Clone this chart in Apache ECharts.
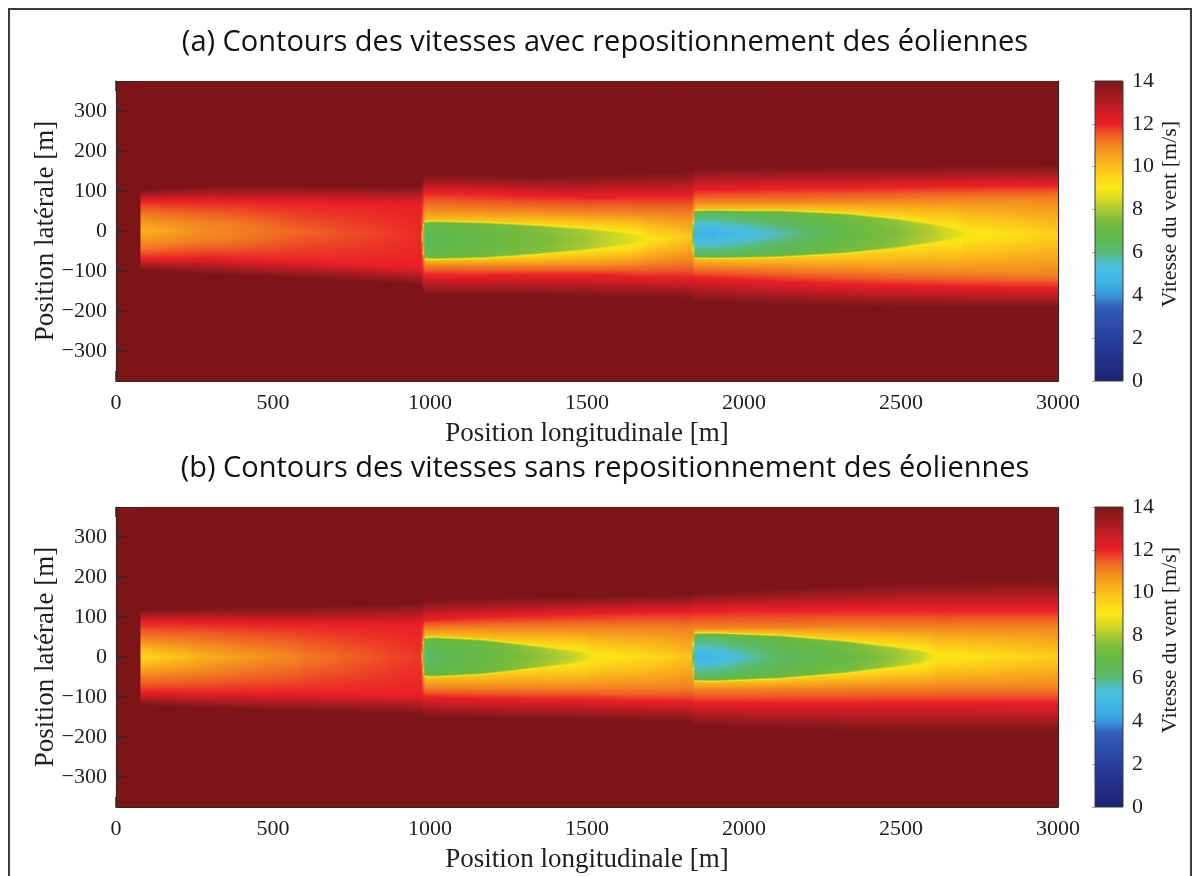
<!DOCTYPE html>
<html>
<head>
<meta charset="utf-8">
<script src="https://cdn.jsdelivr.net/npm/echarts@6/dist/echarts.min.js"></script>
<style>
  html, body { margin: 0; padding: 0; background: #ffffff; }
  #chart { width: 1200px; height: 876px; }
</style>
</head>
<body>
<div id="chart"></div>
<script>
// ---------------------------------------------------------------------------
// Axis ticks
// ---------------------------------------------------------------------------
const xTicks = [0, 500, 1000, 1500, 2000, 2500, 3000];
const yTicks = [-300, -200, -100, 0, 100, 200, 300];
const speedTicks = [0, 2, 4, 6, 8, 10, 12, 14];
const xRange = [0, 3000];
const yRange = [-375, 375];
const speedRange = [0, 14];

// ---------------------------------------------------------------------------
// Wind-speed field, described by cross-sections taken at stations along x.
// For each station:
//   centre     : wake centre line [m]
//   speedC     : speed on the centre line [m/s]
//   core       : half-width of the near-wake core [m] (0 = no core)
//   speedEdge  : speed just inside the core edge [m/s]
//   speedRim   : speed just outside the core edge [m/s]
//   orange*    : lateral positions where the speed reaches 11 m/s
//   red*       : lateral positions where the speed reaches 12 m/s
//   outer*     : lateral positions where the speed is back to 14 m/s
// ---------------------------------------------------------------------------

// (a) with repositioning
const stationsA   = [78, 300, 600, 900, 972, 982, 1010, 1169, 1329, 1488, 1594, 1669, 1695, 1835, 1842, 1902, 2000, 2115, 2327, 2487, 2593, 2668, 2710, 3000];
const centreA     = [2, 0, -4, -8, -10, -23, -23, -23, -22, -21, -20, -20, -20, -15, -8, -8, -8, -7, -6, -6, -6, -7, -8, -10];
const speedCA     = [10.2, 10.9, 11.4, 11.8, 11.9, 6.2, 6.5, 7.0, 7.3, 7.9, 8.4, 8.8, 9.0, 9.8, 4.6, 4.6, 5.0, 5.6, 6.9, 7.5, 8.1, 8.6, 8.9, 9.6];
const coreA       = [0, 0, 0, 0, 0, 42, 43.6, 40.7, 33.2, 23.7, 14.5, 6.2, 0, 0, 55, 56, 55, 54, 45.6, 33, 20.7, 9.5, 0, 0];
const speedEdgeA  = [10.2, 10.9, 11.4, 11.8, 11.9, 7.0, 7.0, 7.2, 7.5, 8.0, 8.4, 8.8, 9.0, 9.8, 6.5, 6.5, 6.7, 6.9, 7.3, 7.7, 8.2, 8.6, 8.9, 9.6];
const speedRimA   = [10.2, 10.9, 11.4, 11.8, 11.9, 10.0, 10.0, 9.8, 9.5, 9.3, 9.1, 9.0, 9.0, 9.8, 10.0, 10.0, 9.9, 9.8, 9.6, 9.4, 9.2, 9.0, 8.9, 9.6];
const orangeTopA  = [37, 20, -4, -8, -10, 55, 55, 52, 50, 47, 46, 45, 45, 42, 72, 72, 72, 72, 74, 76, 78, 79, 79, 82];
const orangeBotA  = [-37, -20, -4, -8, -10, -85, -86, -87, -88, -88, -86, -84, -82, -75, -90, -90, -92, -95, -99, -102, -104, -105, -106, -110];
const redTopA     = [75, 75, 72, 68, 70, 97, 97, 94, 88, 85, 86, 87, 87, 88, 102, 103, 105, 107, 109, 110, 112, 113, 113, 115];
const redBotA     = [-70, -68, -78, -88, -92, -112, -112, -112, -110, -110, -112, -114, -115, -117, -117, -118, -122, -127, -133, -136, -138, -139, -140, -142];
const outerTopA   = [102, 112, 112, 110, 112, 140, 140, 140, 136, 140, 142, 144, 145, 147, 157, 157, 158, 160, 160, 160, 162, 163, 163, 164];
const outerBotA   = [-97, -108, -118, -130, -135, -158, -159, -160, -160, -165, -166, -167, -167, -168, -177, -178, -181, -185, -188, -190, -191, -191, -191, -192];

// (b) without repositioning
const stationsB   = [78, 300, 600, 900, 972, 982, 1010, 1169, 1329, 1435, 1488, 1520, 1700, 1835, 1842, 1902, 2115, 2327, 2487, 2561, 2615, 3000];
const centreB     = [0, 0, 0, 0, 0, 0, 0, 0, 0, 0, 0, 0, 0, 0, 0, 0, 0, 0, 0, 0, 0, 0];
const speedCB     = [9.4, 10.3, 11.1, 11.7, 11.8, 6.0, 6.3, 7.0, 7.6, 8.1, 8.5, 8.9, 9.4, 9.9, 4.7, 4.8, 6.3, 7.0, 7.8, 8.3, 8.9, 9.7];
const coreB       = [0, 0, 0, 0, 0, 44, 45.6, 39.4, 24.9, 14.9, 8.3, 0, 0, 0, 55, 56, 49.8, 36, 20.7, 12.4, 0, 0];
const speedEdgeB  = [9.4, 10.3, 11.1, 11.7, 11.8, 7.0, 7.0, 7.2, 7.8, 8.3, 8.6, 8.9, 9.4, 9.9, 6.6, 6.6, 7.0, 7.4, 8.0, 8.4, 8.9, 9.7];
const speedRimB   = [9.4, 10.3, 11.1, 11.7, 11.8, 10.0, 10.0, 9.8, 9.4, 9.2, 9.0, 8.9, 9.4, 9.9, 10.0, 10.0, 9.8, 9.5, 9.2, 9.0, 8.9, 9.7];
const orangeTopB  = [45, 35, 0, 0, 0, 72, 72, 72, 72, 72, 72, 72, 72, 70, 72, 72, 74, 75, 75, 75, 75, 75];
const orangeBotB  = [-48, -38, 0, 0, 0, -77, -77, -77, -77, -77, -77, -77, -77, -75, -82, -82, -80, -78, -77, -77, -76, -75];
const redTopB     = [85, 85, 82, 80, 80, 92, 94, 100, 104, 107, 108, 109, 111, 112, 115, 115, 116, 117, 117, 117, 117, 117];
const redBotB     = [-88, -90, -92, -95, -96, -100, -101, -104, -106, -107, -107, -108, -110, -112, -115, -115, -116, -116, -115, -115, -115, -115];
const outerTopB   = [118, 122, 125, 132, 134, 142, 143, 146, 148, 149, 150, 150, 154, 156, 160, 162, 170, 178, 185, 187, 188, 192];
const outerBotB   = [-120, -128, -135, -140, -142, -150, -151, -153, -155, -156, -157, -158, -160, -162, -172, -174, -179, -184, -187, -188, -188, -190];

// ---------------------------------------------------------------------------
// Colour scale, 0 to 14 m/s in steps of 0.5 m/s
// ---------------------------------------------------------------------------
const colourScale = [
  '#1b2470', '#1f2a7c', '#222f88', '#253793', '#283f9c', '#2b48a5', '#2e53ae', '#3262b9',
  '#3a98da', '#3caee4', '#42bce6', '#4cbfd2', '#5abb78', '#5db956', '#66b944', '#7ebd3c',
  '#a8c933', '#d6da22', '#fbe814', '#fdd51a', '#fbbd1a', '#f7a21d', '#f38321', '#ef5a24',
  '#e91f27', '#d11d25', '#b21b22', '#951a1d', '#7d1518'
];
const scaleRGB = colourScale.map(h => [parseInt(h.slice(1, 3), 16), parseInt(h.slice(3, 5), 16), parseInt(h.slice(5, 7), 16)]);

function speedColour(v) {
  const t = Math.max(0, Math.min(14, v)) / 0.5;
  const i = Math.min(scaleRGB.length - 2, Math.floor(t));
  const f = t - i;
  const a = scaleRGB[i], b = scaleRGB[i + 1];
  const c = [0, 1, 2].map(k => Math.round(a[k] + (b[k] - a[k]) * f));
  return 'rgb(' + c.join(',') + ')';
}

// ---------------------------------------------------------------------------
// Field rendering
// ---------------------------------------------------------------------------
function makePanel(x, centre, speedC, core, speedEdge, speedRim, oTop, oBot, rTop, rBot, uTop, uBot) {
  return { x, centre, speedC, core, speedEdge, speedRim, oTop, oBot, rTop, rBot, uTop, uBot };
}
const panelA = makePanel(stationsA, centreA, speedCA, coreA, speedEdgeA, speedRimA,
  orangeTopA, orangeBotA, redTopA, redBotA, outerTopA, outerBotA);
const panelB = makePanel(stationsB, centreB, speedCB, coreB, speedEdgeB, speedRimB,
  orangeTopB, orangeBotB, redTopB, redBotB, outerTopB, outerBotB);

const sectionKeys = ['centre', 'speedC', 'core', 'speedEdge', 'speedRim', 'oTop', 'oBot', 'rTop', 'rBot', 'uTop', 'uBot'];

// shading between station i and station i+1, at fraction t of the strip
function sectionAt(panel, i, t) {
  const s = {};
  sectionKeys.forEach(k => { s[k] = panel[k][i] + (panel[k][i + 1] - panel[k][i]) * t; });
  return s;
}

// lateral profile of a section, listed from top (y high) to bottom
function profile(s) {
  const pts = [];
  const rimGap = Math.min(7, s.core);
  const hasCore = s.core > 0.5;
  const upEdge = hasCore ? s.centre + s.core + rimGap : s.centre;
  const loEdge = hasCore ? s.centre - s.core - rimGap : s.centre;
  const rim = hasCore ? s.speedRim : s.speedC;
  const orange = Math.max(11, rim);
  pts.push([s.uTop, 14], [s.rTop, 12]);
  if (s.oTop > upEdge + 0.5) pts.push([s.oTop, orange]);
  if (hasCore) {
    pts.push([upEdge, s.speedRim], [s.centre + s.core, s.speedEdge], [s.centre, s.speedC],
             [s.centre - s.core, s.speedEdge], [loEdge, s.speedRim]);
  } else {
    pts.push([s.centre, s.speedC]);
  }
  if (s.oBot < loEdge - 0.5) pts.push([s.oBot, orange]);
  pts.push([s.rBot, 12], [s.uBot, 14]);
  const out = [];
  pts.forEach(p => { if (!out.length || p[0] < out[out.length - 1][0] - 0.01) out.push(p); });
  return out;
}

function gradientStops(pts, toOffset) {
  const stops = [{ offset: 0, color: speedColour(14) }];
  const add = (y, v) => {
    const o = Math.max(0, Math.min(1, toOffset(y)));
    if (o >= stops[stops.length - 1].offset) stops.push({ offset: o, color: speedColour(v) });
  };
  add(pts[0][0], pts[0][1]);
  for (let j = 1; j < pts.length; j++) {
    const [ya, va] = pts[j - 1], [yb, vb] = pts[j];
    const n = Math.max(1, Math.ceil(Math.abs(vb - va) / 0.25));
    for (let m = 1; m <= n; m++) add(ya + (yb - ya) * m / n, va + (vb - va) * m / n);
  }
  stops.push({ offset: 1, color: speedColour(14) });
  return stops;
}

function fieldRenderer(panel) {
  return function (params, api) {
    const i = api.value(2);
    const pTop = api.coord([panel.x[i], yRange[1]]);
    const pBot = api.coord([panel.x[i + 1], yRange[0]]);
    const left = pTop[0], right = pBot[0], top = pTop[1], h = pBot[1] - pTop[1];
    const toOffset = y => (api.coord([panel.x[i], y])[1] - top) / h;
    const n = Math.max(1, Math.round((right - left) / 2));
    const children = [];
    for (let k = 0; k < n; k++) {
      const s = sectionAt(panel, i, (k + 0.5) / n);
      const xl = left + (right - left) * k / n;
      const xr = left + (right - left) * (k + 1) / n;
      children.push({
        type: 'rect',
        shape: { x: xl, y: top, width: xr - xl + 0.7, height: h },
        style: { fill: new echarts.graphic.LinearGradient(0, 0, 0, 1, gradientStops(profile(s), toOffset)) },
        silent: true
      });
    }
    return { type: 'group', children };
  };
}

function colourBarRenderer(params, api) {
  const p0 = api.coord([0, speedRange[1]]);
  const p1 = api.coord([1, speedRange[0]]);
  const stops = [];
  for (let v = speedRange[1]; v >= speedRange[0] - 1e-9; v -= 0.25) {
    stops.push({ offset: (speedRange[1] - v) / (speedRange[1] - speedRange[0]), color: speedColour(v) });
  }
  return {
    type: 'rect',
    shape: { x: p0[0], y: p0[1], width: p1[0] - p0[0], height: p1[1] - p0[1] },
    style: { fill: new echarts.graphic.LinearGradient(0, 0, 0, 1, stops), stroke: '#3a3a3a', lineWidth: 1 },
    silent: true
  };
}

// ---------------------------------------------------------------------------
// Chart options
// ---------------------------------------------------------------------------
const serif = '"Liberation Serif", "DejaVu Serif", serif';
const ink = '#1e1e1e';
const plain = v => String(v).replace('-', '\u2212');
const frameLine = { color: '#2a2a2a', width: 1.2 };
const tickLine = { color: '#2a2a2a', width: 1.5 };

function plotXAxes(gridIndex) {
  return [{
    gridIndex, type: 'value', position: 'bottom', min: xRange[0], max: xRange[1],
    name: 'Position longitudinale [m]', nameLocation: 'middle', nameGap: 39,
    nameTextStyle: { fontFamily: serif, fontSize: 27, color: ink },
    axisLine: { show: true, onZero: false, lineStyle: frameLine },
    axisTick: { show: true, inside: true, length: 10, customValues: xTicks, lineStyle: tickLine },
    axisLabel: { show: true, margin: 11, customValues: xTicks, formatter: plain, fontFamily: serif, fontSize: 22, color: ink },
    splitLine: { show: false }
  }, {
    gridIndex, type: 'value', position: 'top', min: xRange[0], max: xRange[1],
    axisLine: { show: true, onZero: false, lineStyle: frameLine },
    axisTick: { show: true, inside: true, length: 10, customValues: xTicks, lineStyle: tickLine },
    axisLabel: { show: false }, splitLine: { show: false }
  }];
}

function plotYAxes(gridIndex) {
  return [{
    gridIndex, type: 'value', position: 'left', min: yRange[0], max: yRange[1],
    axisLine: { show: true, onZero: false, lineStyle: frameLine },
    axisTick: { show: true, inside: true, length: 10, customValues: yTicks, lineStyle: tickLine },
    axisLabel: { show: true, margin: 9, customValues: yTicks, formatter: plain, fontFamily: serif, fontSize: 22, color: ink },
    splitLine: { show: false }
  }, {
    gridIndex, type: 'value', position: 'right', min: yRange[0], max: yRange[1],
    axisLine: { show: true, onZero: false, lineStyle: frameLine },
    axisTick: { show: true, inside: true, length: 10, customValues: yTicks, lineStyle: tickLine },
    axisLabel: { show: false }, splitLine: { show: false }
  }];
}

function barXAxis(gridIndex) {
  return { gridIndex, type: 'value', min: 0, max: 1, show: false };
}
function barYAxis(gridIndex) {
  return {
    gridIndex, type: 'value', position: 'right', min: speedRange[0], max: speedRange[1], interval: 2,
    axisLine: { show: false },
    axisTick: { show: true, inside: true, length: 3, customValues: speedTicks, lineStyle: { color: 'rgba(0,0,0,0.35)' } },
    axisLabel: { show: true, margin: 9, customValues: speedTicks, formatter: plain, fontFamily: serif, fontSize: 22, color: ink },
    splitLine: { show: false }
  };
}

const bgColour = speedColour(14);
const grids = [
  { left: 116, top: 81, width: 942, height: 300, show: true, backgroundColor: bgColour, borderWidth: 0 },
  { left: 116, top: 507, width: 942, height: 300, show: true, backgroundColor: bgColour, borderWidth: 0 },
  { left: 1095, top: 81, width: 28, height: 300 },
  { left: 1095, top: 507, width: 28, height: 300 }
];

function fieldSeries(panel, axisIndex) {
  const data = panel.x.slice(0, -1).map((x, i) => [x, panel.x[i + 1], i]);
  return {
    type: 'custom', xAxisIndex: axisIndex, yAxisIndex: axisIndex, clip: true, silent: true,
    renderItem: fieldRenderer(panel), data, encode: { x: [0, 1] }, z: 1
  };
}

function rotatedLabel(text, x, y, font) {
  return { type: 'text', x, y, rotation: Math.PI / 2, silent: true,
    style: { text, font, fill: ink, textAlign: 'center', textVerticalAlign: 'middle' } };
}

const titleFont = '29px "Open Sans", "Noto Sans", sans-serif';
const option = {
  animation: false,
  backgroundColor: '#ffffff',
  grid: grids,
  xAxis: [...plotXAxes(0), ...plotXAxes(1), barXAxis(2), barXAxis(3)],
  yAxis: [...plotYAxes(0), ...plotYAxes(1), barYAxis(2), barYAxis(3)],
  series: [
    fieldSeries(panelA, 0),
    fieldSeries(panelB, 2),
    { type: 'custom', xAxisIndex: 4, yAxisIndex: 4, data: [[0, 0]], renderItem: colourBarRenderer, silent: true },
    { type: 'custom', xAxisIndex: 5, yAxisIndex: 5, data: [[0, 0]], renderItem: colourBarRenderer, silent: true }
  ],
  graphic: [
    { type: 'rect', shape: { x: 9, y: 9, width: 1182, height: 900 }, style: { fill: 'none', stroke: '#3a3a3a', lineWidth: 2 }, silent: true },
    { type: 'text', x: 605, y: 43, silent: true, style: { text: '(a) Contours des vitesses avec repositionnement des éoliennes', font: titleFont, fill: '#111', textAlign: 'center', textVerticalAlign: 'middle' } },
    { type: 'text', x: 605, y: 469, silent: true, style: { text: '(b) Contours des vitesses sans repositionnement des éoliennes', font: titleFont, fill: '#111', textAlign: 'center', textVerticalAlign: 'middle' } },
    rotatedLabel('Position latérale [m]', 46, 231, '27px ' + serif),
    rotatedLabel('Position latérale [m]', 46, 657, '27px ' + serif),
    rotatedLabel('Vitesse du vent [m/s]', 1170, 214, '22px ' + serif),
    rotatedLabel('Vitesse du vent [m/s]', 1170, 640, '22px ' + serif)
  ]
};

const chart = echarts.init(document.getElementById('chart'), null, { renderer: 'canvas', width: 1200, height: 876 });
chart.setOption(option);
</script>
</body>
</html>
